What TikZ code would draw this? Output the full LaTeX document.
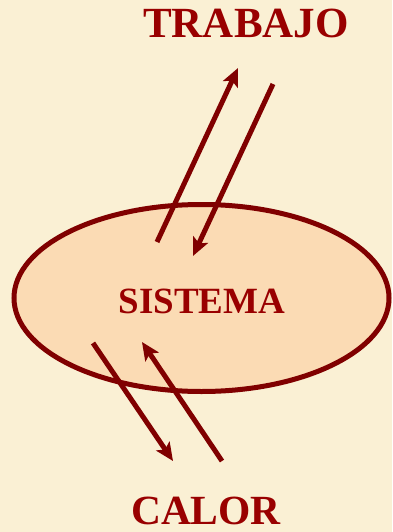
\documentclass[tikz,border=0pt]{standalone}
\usepackage{fontspec}
\setmainfont{Liberation Serif}
\usetikzlibrary{shapes.geometric,arrows.meta}
\definecolor{bgcream}{HTML}{FAF0D4}
\definecolor{peach}{HTML}{FBDBB4}
\definecolor{maroon}{HTML}{800000}
\definecolor{txtred}{HTML}{990000}
\tikzset{
  lbl/.style={anchor=base, inner sep=0pt, text=txtred},
  flow/.style={draw=maroon, line width=5pt, -{Stealth[length=18pt,width=16pt,inset=4pt]}},
  sysbox/.style={ellipse, draw=maroon, fill=peach, line width=5pt, minimum width=375pt, minimum height=187pt, inner sep=0pt}
}
\begin{document}
\begin{tikzpicture}[x=1pt,y=-1pt]
\path[fill=bgcream] (0,0) rectangle (392,532);
\useasboundingbox (0,0) rectangle (392,532);
\node[sysbox] (sys) at (201.5,298) {};
\node[lbl, font=\bfseries\fontsize{43}{50}\selectfont] (trabajo) at (246,38) {TRABAJO};
\node[lbl, font=\bfseries\fontsize{37}{44}\selectfont] (sistema) at (202,313) {SISTEMA};
\node[lbl, font=\bfseries\fontsize{41.5}{48}\selectfont] (calor) at (206,524) {CALOR};
\coordinate (t1s) at (157,242);
\coordinate (t1e) at (238,68);
\coordinate (t2s) at (273,84);
\coordinate (t2e) at (193,256);
\coordinate (c1s) at (93,343);
\coordinate (c1e) at (173,461);
\coordinate (c2s) at (222,461);
\coordinate (c2e) at (142,342);
\draw[flow] (t1s) -- (t1e);
\draw[flow] (t2s) -- (t2e);
\draw[flow] (c1s) -- (c1e);
\draw[flow] (c2s) -- (c2e);
\end{tikzpicture}
\end{document}
